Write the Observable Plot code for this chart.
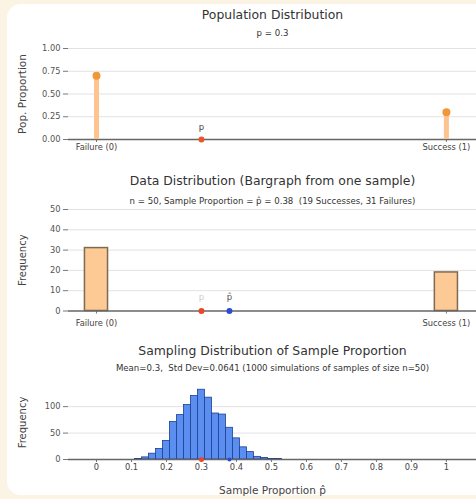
<!DOCTYPE html>
<html><head><meta charset="utf-8">
<script src="https://cdn.jsdelivr.net/npm/d3@7"></script>
<script src="https://cdn.jsdelivr.net/npm/@observablehq/plot@0.6"></script>
<style>
html,body{margin:0;padding:0;background:#fbf4e4;}
#wrap{position:relative;width:476px;height:499px;overflow:hidden;}
#panel{position:absolute;left:7px;top:4px;width:490px;height:491px;background:#fff;border-radius:14px;}
.chart{position:absolute;left:0;}
.chart svg{display:block;}
</style></head><body>
<div id="wrap"><div id="panel"></div>
<div id="c1" class="chart" style="top:0px"></div>
<div id="c2" class="chart" style="top:160px"></div>
<div id="c3" class="chart" style="top:330px"></div>
</div>
<script>
// ---- data ----
const outcomeValues = [0, 1];
const outcomeLabels = ["Failure (0)", "Success (1)"];
const popProportions = [0.7, 0.3];
const p = 0.3;
const n = 50;
const sampleCounts = [31, 19];
const pHat = 0.38;
const popTicks = [0, 0.25, 0.5, 0.75, 1];
const freqTicks = [0, 10, 20, 30, 40, 50];
const histPhat = [0.12, 0.14, 0.16, 0.18, 0.20, 0.22, 0.24, 0.26, 0.28, 0.30, 0.32, 0.34, 0.36, 0.38, 0.40, 0.42, 0.44, 0.46, 0.48, 0.50, 0.52];
const histCounts = [1, 4, 11, 20, 35, 71, 84, 103, 120, 132, 117, 87, 85, 60, 40, 23, 14, 5, 3, 1, 1];
const histTicks = [0, 50, 100];
const propTicks = [0, 0.1, 0.2, 0.3, 0.4, 0.5, 0.6, 0.7, 0.8, 0.9, 1];
const titles = ["Population Distribution", "Data Distribution (Bargraph from one sample)", "Sampling Distribution of Sample Proportion"];
const subtitles = [
  `p = ${p}`,
  `n = ${n}, Sample Proportion = p\u0302 = ${pHat}\u00a0\u00a0(${sampleCounts[1]} Successes, ${sampleCounts[0]} Failures)`,
  "Mean=0.3,\u00a0\u00a0Std Dev=0.0641 (1000 simulations of samples of size n=50)"
];
const yLabels = ["Pop. Proportion", "Frequency", "Frequency"];
const xLabel3 = "Sample Proportion p\u0302";

// ---- derived tables ----
const popData = outcomeValues.map((v, i) => ({value: v, prop: popProportions[i]}));
const sampleData = outcomeValues.map((v, i) => ({value: v, count: sampleCounts[i]}));
const histData = histPhat.map((v, i) => ({phat: v, count: histCounts[i]}));
const barHalf = 0.033;
const binHalf = 0.01;
const xDomain = [-0.08, 1.086];
const FONT = "DejaVu Sans";
const style = {fontFamily: FONT, fontSize: "8.3px", background: "transparent", color: "#444", overflow: "visible"};
const outcomeFmt = d => outcomeLabels[outcomeValues.indexOf(d)];
const baseline = [{y: 0}];

function headers(i, dyT, dyS, ySize) {
  return [
    Plot.text([titles[i]], {frameAnchor: "top", dy: dyT, text: d => d, fontSize: 12.4, fill: "#333", lineAnchor: "middle"}),
    Plot.text([subtitles[i]], {frameAnchor: "top", dy: dyS, text: d => d, fontSize: 8.6, fill: "#333", lineAnchor: "middle"}),
    Plot.text([yLabels[i]], {frameAnchor: "left", rotate: -90, dx: -46, text: d => d, fontSize: ySize, fill: "#444", textAnchor: "middle", lineAnchor: "middle"})
  ];
}

// ---- chart 1 ----
const c1 = Plot.plot({
  width: 476, height: 160, marginLeft: 68, marginRight: 0, marginTop: 48, marginBottom: 21,
  style,
  x: {domain: xDomain}, y: {domain: [0, 1]},
  marks: [
    Plot.gridY(popTicks.filter(t => t > 0), {stroke: "#e2e2e2", strokeOpacity: 1}),
    Plot.axisY(popTicks, {tickFormat: d3.format(".2f"), tickSize: 5, tickPadding: 3, label: null, stroke: "#777", fill: "#555"}),
    Plot.axisX(outcomeValues, {tickFormat: outcomeFmt, tickSize: 3, tickPadding: 2, label: null, stroke: "#777", fill: "#444"}),
    Plot.ruleY(baseline, {y: "y", stroke: "#666", strokeWidth: 1.5}),
    Plot.ruleX(popData, {x: "value", y1: 0, y2: "prop", stroke: "#fdc48f", strokeWidth: 5}),
    Plot.dot(popData, {x: "value", y: "prop", r: 4, fill: "#f2963a"}),
    Plot.dot([{x: p, y: 0}], {x: "x", y: "y", r: 3, fill: "#e8572a"}),
    Plot.text([{x: p, y: 0, t: "p"}], {x: "x", y: "y", text: "t", dy: -12, fontSize: 8.5, fill: "#444"}),
    ...headers(0, -33, -15, 10.5)
  ]
});
document.getElementById("c1").append(c1);

// ---- chart 2 ----
const c2 = Plot.plot({
  width: 476, height: 170, marginLeft: 68, marginRight: 0, marginTop: 49, marginBottom: 19.5,
  style,
  x: {domain: xDomain}, y: {domain: [0, 50]},
  marks: [
    Plot.gridY(freqTicks.filter(t => t > 0), {stroke: "#e2e2e2", strokeOpacity: 1}),
    Plot.axisY(freqTicks, {tickSize: 5, tickPadding: 3, label: null, stroke: "#777", fill: "#555"}),
    Plot.axisX(outcomeValues, {tickFormat: outcomeFmt, tickSize: 3, tickPadding: 6, label: null, stroke: "#777", fill: "#444"}),
    Plot.rectY(sampleData, {x1: d => d.value - barHalf, x2: d => d.value + barHalf, y: "count", fill: "#fdc994", stroke: "#7d6a55", strokeWidth: 1.5}),
    Plot.ruleY(baseline, {y: "y", stroke: "#666", strokeWidth: 1.5}),
    Plot.dot([{x: p, y: 0}], {x: "x", y: "y", r: 3, fill: "#e8472b"}),
    Plot.dot([{x: pHat, y: 0}], {x: "x", y: "y", r: 3, fill: "#2a4bd6"}),
    Plot.text([{x: p, y: 0, t: "p"}], {x: "x", y: "y", text: "t", dy: -14, fontSize: 8.5, fill: "#ccc"}),
    Plot.text([{x: pHat, y: 0, t: "p\u0302"}], {x: "x", y: "y", text: "t", dy: -14, fontSize: 8.5, fill: "#555"}),
    ...headers(1, -28.3, -8, 10)
  ]
});
document.getElementById("c2").append(c2);

// ---- chart 3 ----
const c3 = Plot.plot({
  width: 476, height: 169, marginLeft: 68, marginRight: 0, marginTop: 55, marginBottom: 40,
  style,
  x: {domain: xDomain}, y: {domain: [0, 140]},
  marks: [
    Plot.gridY(histTicks.filter(t => t > 0), {stroke: "#e2e2e2", strokeOpacity: 1}),
    Plot.axisY(histTicks, {tickSize: 5, tickPadding: 3, label: null, stroke: "#777", fill: "#555"}),
    Plot.axisX(propTicks, {tickFormat: d => String(+d.toFixed(1)), tickSize: 3, tickPadding: 2, label: null, stroke: "#777", fill: "#444"}),
    Plot.rectY(histData, {x1: d => d.phat - binHalf, x2: d => d.phat + binHalf, y: "count", fill: "#5a8ef0", stroke: "#1f3f90", strokeWidth: 0.8}),
    Plot.ruleY(baseline, {y: "y", stroke: "#666", strokeWidth: 1.5}),
    Plot.dot([{x: p, y: 0}], {x: "x", y: "y", r: 2.5, fill: "#e8472b"}),
    Plot.dot([{x: pHat, y: 0}], {x: "x", y: "y", r: 2, fill: "#2a4bd6"}),
    Plot.text([xLabel3], {frameAnchor: "bottom", dy: 31, text: d => d, fontSize: 10.5, fill: "#444", lineAnchor: "middle"}),
    ...headers(2, -34.3, -17.7, 10)
  ]
});
document.getElementById("c3").append(c3);
</script>
</body></html>
